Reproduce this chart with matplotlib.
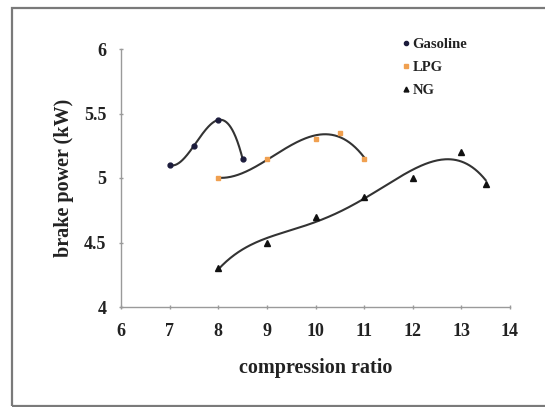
import numpy as np
import matplotlib
matplotlib.use("Agg")
import matplotlib.pyplot as plt
from matplotlib.patches import Rectangle
from matplotlib.lines import Line2D

gas_x = [7, 7.5, 8, 8.5]
gas_y = [5.1, 5.25, 5.45, 5.15]
lpg_x = [8, 9, 10, 10.5, 11]
lpg_y = [5.0, 5.15, 5.3, 5.35, 5.15]
ng_x = [8, 9, 10, 11, 12, 13, 13.5]
ng_y = [4.3, 4.5, 4.7, 4.85, 5.0, 5.2, 4.95]
xticks = [6, 7, 8, 9, 10, 11, 12, 13, 14]
yticks = [4, 4.5, 5, 5.5, 6]
ytick_labels = ["4", "4.5", "5", "5.5", "6"]

plt.rcParams['font.family'] = ['Liberation Serif', 'DejaVu Serif']
plt.rcParams['font.weight'] = 'bold'

W, H = 545, 407
fig = plt.figure(figsize=(W/100, H/100), dpi=100)
fig.patches.append(Rectangle((12/W, 1/H), 1, 1 - 9/H, transform=fig.transFigure,
                             fill=False, edgecolor='#7a7a7a', lw=1.6))
ax = fig.add_axes([121/W, 1 - 307/H, (510-121)/W, (307-49)/H])

gas_c = '#1c1c3c'
lpg_c = '#f0a050'
ng_c = '#111111'
line_c = '#333333'

def trend(x, y, deg):
    p = np.polyfit(x, y, deg)
    xs = np.linspace(min(x), max(x), 200)
    return xs, np.polyval(p, xs)

xs, ys = trend(gas_x, gas_y, 3)
ax.plot(xs, ys, color=line_c, lw=1.5)
xs, ys = trend(lpg_x, lpg_y, 3)
ax.plot(xs, ys, color=line_c, lw=1.5)
xs, ys = trend(ng_x, ng_y, 4)
ax.plot(xs, ys, color=line_c, lw=1.5)

ax.plot(gas_x, gas_y, 'o', color=gas_c, ms=3.5, zorder=3)
ax.plot(lpg_x, lpg_y, 's', color=lpg_c, ms=3.5, zorder=3)
ax.plot(ng_x, ng_y, '^', color=ng_c, ms=4.5, zorder=3)

ax.set_xlim(6, 14)
ax.set_ylim(4, 6)
ax.set_xticks(xticks)
ax.set_yticks(yticks)
ax.set_yticklabels(ytick_labels)
for s in ['top', 'right']:
    ax.spines[s].set_visible(False)
for s in ['left', 'bottom']:
    ax.spines[s].set_color('#9a9a9a')
    ax.spines[s].set_linewidth(1.0)
ax.tick_params(axis='both', labelsize=13, colors='#9a9a9a', length=3, width=1, direction='inout')
for lab in ax.get_xticklabels() + ax.get_yticklabels():
    lab.set_color('#222222')
    lab.set_fontweight('bold')
ax.tick_params(axis='x', pad=10)
ax.tick_params(axis='y', pad=9)

ax.set_xlabel('compression ratio', fontsize=14.5, fontweight='bold', color='#222222', labelpad=13)
ax.set_ylabel('brake power (kW)', fontsize=14.5, fontweight='bold', color='#222222', labelpad=7)

handles = [Line2D([], [], marker='o', color=gas_c, ls='', ms=3),
           Line2D([], [], marker='s', color=lpg_c, ls='', ms=3),
           Line2D([], [], marker='^', color=ng_c, ls='', ms=3.5)]
leg = ax.legend(handles, ['Gasoline', 'LPG', 'NG'], loc='upper left',
                bbox_to_anchor=(395/W, 1 - 31/H), bbox_transform=fig.transFigure,
                frameon=False, fontsize=10.5, handlelength=0.5, handletextpad=0.2,
                labelspacing=0.65, borderpad=0)
for t in leg.get_texts():
    t.set_fontweight('bold')
    t.set_color('#222222')

fig.savefig('out.png', dpi=100)
